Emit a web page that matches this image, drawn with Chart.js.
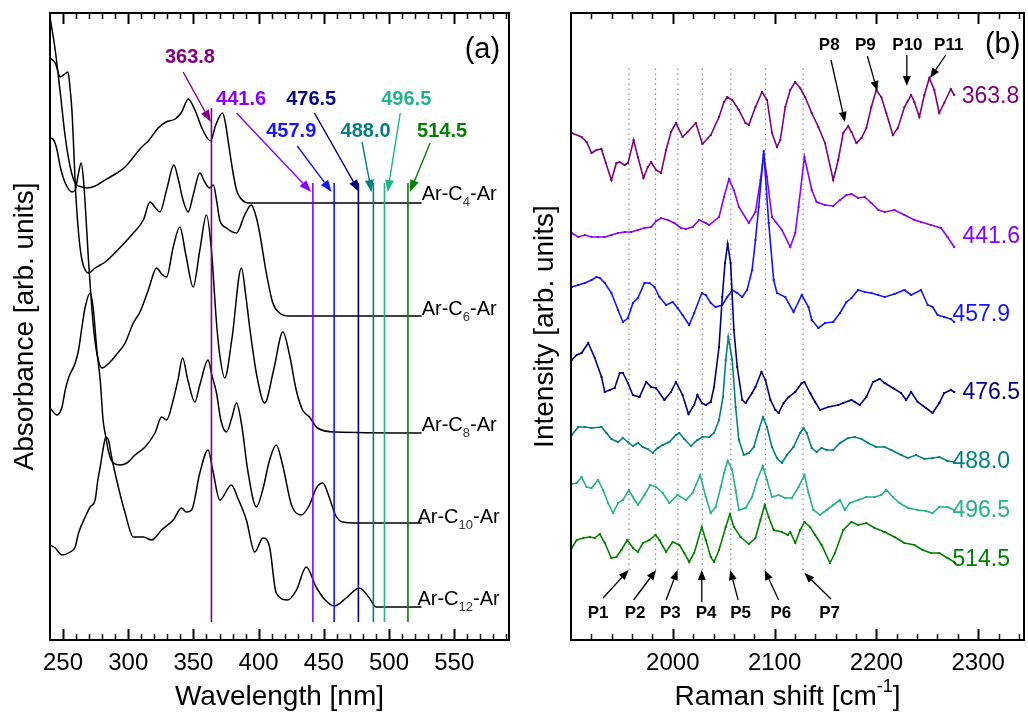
<!DOCTYPE html>
<html><head><meta charset="utf-8">
<script src="https://cdn.jsdelivr.net/npm/chart.js@4.4.0/dist/chart.umd.min.js"></script>
<style>
html,body{margin:0;padding:0;background:#fff;width:1028px;height:715px;overflow:hidden}
#ca{position:absolute;left:0;top:0}
#cb{position:absolute;left:520px;top:0}
</style></head><body>
<canvas id="ca" width="520" height="715"></canvas>
<canvas id="cb" width="508" height="715"></canvas>
<script>
// ---------- Panel (a): absorbance spectra (wavelength nm, arb. units) ----------
const tickNm = [250, 300, 350, 400, 450, 500, 550];
const curveNames = ['4', '6', '8', '10', '12'];
const absC4 = [[240,623],[244,590],[247.9,547],[251.7,503],[255.5,473],[259.3,457],[264.5,453],[268.3,452],[274.6,454],[278.5,457],[291.2,467],[297.6,473],[309,491],[316,500],[323,512],[329,518],[336,521],[341,528],[346,541],[351.1,530],[357.2,510],[363.1,499],[367.1,515],[372.3,527],[374.8,515],[376.5,500],[380.4,467],[383,450],[385.5,443],[389.3,438],[393.1,437],[525,437]];
const absC6 = [[240,582],[244,577],[247.9,563],[250.4,565],[253.8,568],[255.5,550],[256.8,530],[258,497],[259.3,457],[261.9,407],[264.5,380],[267,370],[269.5,367],[274.6,372],[278.5,375],[282.3,378],[291.2,389],[303.9,407],[311.6,420],[316.7,438],[321,432],[324.3,428],[329.4,450],[335,475],[338.5,460],[342,440],[346,428],[349.8,445],[354.9,467],[358.7,458],[362.5,452],[365.3,455],[367.7,440],[370.2,420],[375.3,412],[383,407],[389.3,425],[394.4,435],[397.7,425],[400.8,407],[405.9,367],[410.9,337],[416.1,327],[423.7,324],[525,324]];
const absC8 = [[240,502],[242.8,500],[245.4,490],[247.9,473],[251.7,457],[256.8,448],[259.3,450],[261.6,465],[263.9,477],[265.7,460],[268.3,407],[269.5,380],[270.8,355],[273.3,313],[276.2,285],[279.8,272],[286.1,278],[290.7,285],[297.6,297],[303.9,317],[309,328],[315.4,350],[321.8,372],[325.6,366],[329.4,363],[334.5,393],[339.6,413],[344.2,385],[349.8,353],[354.9,390],[360,425],[363.8,390],[367.7,317],[370.2,285],[374,262],[379.4,300],[386.8,372],[390.1,345],[393.1,313],[398.5,265],[404.6,237],[411.5,270],[418.6,308],[423.7,285],[428.8,250],[433.7,230],[439,223],[445.1,212],[459.4,208],[525,207]];
const absC10 = [[240,232],[245.4,225],[249.2,233],[251.7,250],[254.2,262],[259.3,277],[261.9,290],[264.5,313],[267,333],[270.8,347],[273.3,330],[275.9,290],[278.5,260],[280.7,220],[282.8,203],[284.6,190],[286.9,180],[288.6,177],[293.7,175],[298.9,177],[305.2,185],[312.9,193],[320.5,207],[325.6,223],[329.4,220],[334.5,240],[338.1,260],[341.7,282],[345.7,260],[351.1,238],[354.9,255],[361.2,280],[364.1,265],[367.7,247],[371,220],[375.3,208],[379.4,222],[383,237],[387,215],[391.6,170],[398.3,133],[403.1,150],[408.4,180],[413.5,195],[418.4,175],[425.2,135],[432.7,125],[439,135],[444.3,152],[449.2,157],[454.3,142],[458.9,125],[464.5,118],[477.2,117],[525,117]];
const absC12 = [[240,95],[244,92],[249.2,85],[255.5,88],[259.3,93],[261.9,107],[267,123],[270.8,133],[274.6,140],[276.7,160],[278.5,173],[281,193],[282.8,203],[284.8,200],[287.4,182],[292.4,153],[297.6,127],[303.9,103],[311.6,103],[318,100],[325.6,110],[334.5,120],[340.9,132],[344.5,128],[348.6,130],[354.9,167],[361.2,190],[364.8,170],[370.2,140],[379.1,155],[384,142],[390.6,120],[397,88],[403.3,102],[408.4,93],[413.5,47],[422.4,40],[429,50],[436.5,73],[444.1,53],[451,40],[458.1,34],[467.1,42],[477.2,52],[484.9,42],[490,33],[525,33]];
const laserNm = [363.8, 441.6, 457.9, 476.5, 488.0, 496.5, 514.5];
const laserText = ['363.8', '441.6', '457.9', '476.5', '488.0', '496.5', '514.5'];
const laserColors = ['#800080', '#8a00ff', '#1414ff', '#000080', '#008080', '#22b388', '#008000'];
const laserSpan = [[18, 532], [18, 457], [18, 457], [18, 457], [18, 457], [18, 457], [18, 457]];

// ---------- Panel (b): Raman spectra (cm-1, arb. units) ----------
const tickCm = [2000, 2100, 2200, 2300];
const peakLinesCm = [1957, 1983, 2005, 2029, 2057, 2091, 2128];
const ram363 = [[1900.7,507],[1910.4,503],[1915.3,498],[1920.2,487],[1925,490],[1929.9,491],[1934.2,477],[1939.7,460],[1944.6,477],[1947.8,478],[1952.7,475],[1956,477],[1961.5,500],[1965.7,483],[1971.2,462],[1975.5,473],[1978.7,478],[1983.6,470],[1988.5,467],[1993.4,490],[1998.2,508],[2003.1,517],[2009.6,503],[2014.5,508],[2022.6,517],[2029.1,496],[2037.3,505],[2045.4,523],[2050.3,538],[2053.5,543],[2058.4,540],[2064.9,530],[2071.4,517],[2074.7,515],[2081.2,533],[2087.7,548],[2092.6,540],[2097.5,507],[2102.3,493],[2105.6,500],[2110.5,533],[2115.3,550],[2120.2,558],[2125.1,552],[2130,543],[2136.5,527],[2143,513],[2149.5,497],[2157.6,460],[2162.5,480],[2167.4,507],[2172.3,514],[2175.5,508],[2180.4,497],[2185.3,502],[2190.2,512],[2195,533],[2199.9,550],[2204.8,543],[2209.7,527],[2216.2,505],[2221.1,512],[2227.6,533],[2234.1,545],[2237.3,538],[2242.2,523],[2247.1,545],[2252,562],[2256.9,550],[2261.7,527],[2266.6,537],[2273.1,551],[2276.4,545]];
const ram441 = [[1900.7,407],[1907.1,403],[1913.7,405],[1920.2,403],[1926.6,403],[1933.2,403],[1939.7,405],[1946.2,407],[1952.7,408],[1959.2,408],[1965.7,410],[1972.2,412],[1978.8,413],[1983.6,419],[1988.5,422],[1995,420],[2001.5,417],[2008,412],[2012.9,411],[2019.4,413],[2025.9,420],[2032.4,417],[2035.7,415],[2045.4,423],[2050.3,443],[2055.2,461],[2060,450],[2064.9,433],[2074.7,417],[2081.2,428],[2086.1,460],[2089.3,485],[2092.5,463],[2097.4,423],[2107.2,410],[2115.4,393],[2120.3,407],[2123.5,433],[2129.3,483],[2136.5,450],[2141.3,438],[2149.5,435],[2157.6,434],[2164.2,440],[2170.6,445],[2175.5,446],[2182,442],[2188.6,443],[2195,437],[2202,430],[2208.1,428],[2217.8,430],[2227.6,425],[2237.4,420],[2243.8,418],[2253.6,415],[2263.4,412],[2269.9,403],[2276.4,393]];
const ram457 = [[1900.7,353],[1907.1,355],[1913.7,357],[1920.2,360],[1925.1,363],[1928.3,362],[1933.2,357],[1939.7,347],[1946.2,330],[1951,318],[1955.9,322],[1960.8,337],[1965.7,342],[1972.2,357],[1977.1,357],[1982,353],[1986.9,343],[1993.4,335],[1999.8,338],[2004.7,332],[2009.6,325],[2016.1,315],[2021,327],[2028.5,347],[2032.4,345],[2037.3,337],[2042.2,333],[2048.6,335],[2053.5,343],[2058.4,350],[2063.3,347],[2068.2,343],[2073,350],[2077.9,370],[2081.2,400],[2084.4,433],[2089.3,489],[2094.2,417],[2099.1,360],[2102.3,347],[2110.5,343],[2118.6,328],[2126.7,345],[2133.3,333],[2136.5,320],[2143,312],[2149.5,317],[2157.6,318],[2164.2,327],[2170.6,338],[2175.5,342],[2182,350],[2188.6,348],[2195,347],[2201.6,345],[2208.1,343],[2217.8,346],[2227.6,350],[2234.1,345],[2243.8,350],[2250.4,335],[2255.2,333],[2260.1,325],[2266.6,323],[2273.1,321],[2276.4,318]];
const ram476 = [[1900.7,280],[1905.6,285],[1910.4,287],[1916.9,297],[1923.4,282],[1930,263],[1933.2,248],[1938.1,250],[1942.9,252],[1947.8,267],[1951,267],[1955.9,257],[1960.8,245],[1967.3,243],[1973.9,258],[1978.8,253],[1983.6,252],[1991.7,240],[1998.2,248],[2003.1,258],[2009.6,245],[2015.4,226],[2021,235],[2024.2,245],[2028.5,237],[2032.4,235],[2037.3,238],[2040.5,253],[2045.4,293],[2048.6,343],[2051.3,377],[2053.9,396],[2056.8,377],[2060,310],[2063.3,273],[2068.2,240],[2071.5,237],[2077.9,247],[2081.2,253],[2087.1,268],[2091,260],[2095.9,240],[2100.8,230],[2104,227],[2108.9,237],[2113.8,243],[2120.3,248],[2126.7,257],[2129.3,258],[2134.9,247],[2139.8,238],[2144.7,230],[2152.8,233],[2162.5,235],[2167.4,237],[2175.5,240],[2178.8,238],[2183.7,235],[2190.1,243],[2196.7,258],[2203.2,261],[2208.1,257],[2216.2,252],[2224.3,247],[2229.2,240],[2234.1,248],[2240.6,238],[2248.7,232],[2255.2,227],[2261.8,237],[2266.6,247],[2273.1,250],[2276.4,248]];
const ram488 = [[1900.7,205],[1907.1,213],[1913.7,213],[1920.2,212],[1930,213],[1934.8,207],[1939.7,201],[1946.2,198],[1951,202],[1955.9,198],[1960.8,194],[1965.7,197],[1970.6,193],[1975.4,191],[1980.3,187],[1985.2,192],[1990.1,195],[1996.6,198],[2003.1,205],[2006.4,207],[2011.3,201],[2017.8,194],[2024.2,200],[2029.1,203],[2035.7,203],[2040.5,207],[2045.4,220],[2049.3,243],[2052,280],[2054.5,303],[2058.4,280],[2061.7,233],[2064.9,200],[2069.8,185],[2074.7,187],[2079.6,193],[2084.4,210],[2088.6,223],[2092.5,213],[2097.4,193],[2102.3,182],[2107.2,177],[2112.1,185],[2118.6,193],[2125.1,207],[2128.4,212],[2131.6,207],[2136.5,192],[2141.3,188],[2146.2,192],[2151.1,190],[2157.6,190],[2164.2,197],[2172.3,202],[2178.8,203],[2185.3,201],[2191.8,197],[2199.9,193],[2208.1,193],[2214.6,190],[2224.3,185],[2230.9,182],[2239,185],[2247.1,181],[2255.2,182],[2261.8,183],[2269.9,179],[2276.4,178]];
const ram496 = [[1900.7,156],[1905.6,157],[1910.4,163],[1915.3,153],[1920.2,152],[1926.6,160],[1931.5,150],[1936.4,137],[1941.3,127],[1946.2,137],[1951,140],[1956.9,150],[1960.8,143],[1965.7,135],[1972.2,145],[1977.8,155],[1983.6,153],[1990.1,147],[1996.6,137],[2004.7,145],[2012.9,140],[2019.4,147],[2026.9,165],[2032.4,143],[2037.3,127],[2042.2,133],[2047.1,153],[2050.3,167],[2053.9,179],[2058.4,170],[2061.7,150],[2064.9,130],[2071.5,132],[2077.9,143],[2082.8,160],[2088.4,174],[2092.5,160],[2097.4,143],[2104,145],[2110.5,142],[2117,142],[2123.5,153],[2129.3,165],[2133.3,147],[2138.1,130],[2144.7,125],[2151.1,130],[2157.6,135],[2164.2,140],[2169,130],[2173.9,137],[2182,140],[2190.1,143],[2198.3,143],[2204.8,145],[2209.7,150],[2216.2,143],[2222.7,137],[2230.9,132],[2240.6,130],[2248.7,129],[2255.2,127],[2261.8,133],[2269.9,133],[2276.4,130]];
const ram514 = [[1900.7,92],[1905.6,100],[1912,102],[1918.5,103],[1923.4,102],[1928.3,106],[1933.2,97],[1939.7,82],[1944.6,83],[1949.5,90],[1955.3,100],[1960.8,92],[1965.7,88],[1970.6,97],[1977.1,100],[1983,105],[1986.9,100],[1993.4,88],[1999.8,98],[2006.4,95],[2011.3,87],[2016.1,78],[2021,87],[2028.5,113],[2032.4,100],[2037.3,83],[2040.5,78],[2045.4,90],[2052,113],[2056.1,126],[2060,113],[2066.6,103],[2074.7,96],[2081.2,102],[2086.1,120],[2090.3,135],[2094.2,123],[2099.1,110],[2107.2,108],[2113,105],[2115.4,108],[2120.3,97],[2125.1,110],[2129.3,118],[2134.9,113],[2139.8,105],[2146.2,95],[2154.4,77],[2159.3,87],[2167.4,110],[2175.5,118],[2182,115],[2190.1,117],[2198.3,112],[2208.1,108],[2217.8,103],[2227.6,97],[2237.4,95],[2245.5,90],[2253.6,87],[2261.8,87],[2269.9,82],[2276.4,78]];
const ramanSeries = [ram363, ram441, ram457, ram476, ram488, ram496, ram514];
const ramanText = ['363.8', '441.6', '457.9', '476.5', '488.0', '496.5', '514.5'];

// ---------- annotation layout (data coordinates) ----------
const laserLabelLayout = [
  [347.3,583, 342.1,568, 363.3,518],
  [386.5,541, 383.0,527, 440.3,448],
  [425.0,509, 429.6,494, 456.0,448],
  [440.3,541, 442.8,527, 477.2,448],
  [482.0,509, 479.3,498, 486.6,448],
  [513.2,541, 508.6,527, 498.9,448],
  [540.7,509, 531.5,497, 516.0,448]
];
const curveLabelLayout = [[525,440],[525,325],[525,209],[521.8,117],[521.8,35]];
const topPeakLayout = [['P8',2153.7,595,2155.4,580,2169.1,518],['P9',2189.2,595,2191.1,584,2200.9,549],['P10',2230.5,595,2229.9,585,2229.9,554],['P11',2271.1,595,2268.2,585,2252.6,562]];
const botPeakLayout = [['P1',1926.6,27,1931.5,42,1956.6,70],['P2',1962.9,27,1961.5,40,1983.6,70],['P3',1997.6,27,1993.4,40,2004.7,70],['P4',2032.7,27,2028.5,38,2028.5,70],['P5',2066.6,27,2064.2,40,2056.4,70],['P6',2106.2,27,2104,40,2090.3,70],['P7',2154,27,2155.4,41,2129.3,67]];
const seriesLabelLayout = [[2283.8,543],[2284.5,403],[2274.7,325],[2284.5,247],[2274.7,178],[2274.7,129],[2274.7,80]];

const FONT = "'Liberation Sans', Arial, Helvetica, sans-serif";
Chart.defaults.font.family = FONT;
Chart.defaults.color = '#000';

function toXY(arr){ return arr.map(p => ({x:p[0], y:p[1]})); }
function arrow(ctx, x1, y1, x2, y2, color, lw, head, hw){
  const a = Math.atan2(y2-y1, x2-x1);
  const hx = x2 - head*Math.cos(a), hy = y2 - head*Math.sin(a);
  ctx.strokeStyle = color; ctx.fillStyle = color; ctx.lineWidth = lw;
  ctx.beginPath(); ctx.moveTo(x1,y1); ctx.lineTo(hx,hy); ctx.stroke();
  ctx.beginPath(); ctx.moveTo(x2,y2);
  ctx.lineTo(hx + hw*Math.sin(a), hy - hw*Math.cos(a));
  ctx.lineTo(hx - hw*Math.sin(a), hy + hw*Math.cos(a));
  ctx.closePath(); ctx.fill();
}
function frameAndTicks(chart, majors, minorStart, minorStep){
  const ctx = chart.ctx, {left,right,top,bottom} = chart.chartArea, xs = chart.scales.x;
  ctx.save();
  ctx.strokeStyle = '#000';
  for (let v = minorStart; v <= xs.max; v += minorStep){
    const px = Math.round(xs.getPixelForValue(v)) + 0.5;
    const major = majors.indexOf(v) >= 0;
    const len = major ? 11 : 6;
    ctx.lineWidth = major ? 2 : 1.5;
    ctx.beginPath(); ctx.moveTo(px, bottom); ctx.lineTo(px, bottom-len); ctx.stroke();
    ctx.beginPath(); ctx.moveTo(px, top); ctx.lineTo(px, top+len); ctx.stroke();
  }
  ctx.lineWidth = 2;
  ctx.strokeRect(left, top, right-left, bottom-top);
  ctx.restore();
}

const decorA = { id:'decorA', afterDraw(chart){
  const ctx = chart.ctx, xs = chart.scales.x, ys = chart.scales.y;
  frameAndTicks(chart, tickNm, 250, 10);
  ctx.save();
  laserLabelLayout.forEach((L, i) => {
    ctx.font = 'bold 20px ' + FONT; ctx.fillStyle = laserColors[i];
    ctx.textAlign = 'center'; ctx.textBaseline = 'middle';
    ctx.fillText(laserText[i], xs.getPixelForValue(L[0]), ys.getPixelForValue(L[1]));
    arrow(ctx, xs.getPixelForValue(L[2]), ys.getPixelForValue(L[3]), xs.getPixelForValue(L[4]), ys.getPixelForValue(L[5]), laserColors[i], 1.4, 12, 4.5);
  });
  curveLabelLayout.forEach((L, i) => {
    const x = xs.getPixelForValue(L[0]), y = ys.getPixelForValue(L[1]);
    ctx.textAlign = 'left'; ctx.textBaseline = 'alphabetic'; ctx.fillStyle = '#000';
    ctx.font = '20px ' + FONT; ctx.fillText('Ar-C', x, y);
    const w1 = ctx.measureText('Ar-C').width;
    ctx.font = '13px ' + FONT; ctx.fillStyle = '#333'; ctx.fillText(curveNames[i], x + w1, y + 6);
    const w2 = ctx.measureText(curveNames[i]).width;
    ctx.font = '20px ' + FONT; ctx.fillStyle = '#000'; ctx.fillText('-Ar', x + w1 + w2, y);
  });
  ctx.font = '29px ' + FONT; ctx.fillStyle = '#000'; ctx.textAlign = 'center'; ctx.textBaseline = 'middle';
  ctx.fillText('(a)', xs.getPixelForValue(571.6), ys.getPixelForValue(590));
  ctx.restore();
}};

const decorB = { id:'decorB', afterDraw(chart){
  const ctx = chart.ctx, xs = chart.scales.x, ys = chart.scales.y;
  frameAndTicks(chart, tickCm, 1920, 20);
  ctx.save();
  const peaks = topPeakLayout.concat(botPeakLayout);
  peaks.forEach(L => {
    ctx.font = 'bold 17px ' + FONT; ctx.fillStyle = '#000';
    ctx.textAlign = 'center'; ctx.textBaseline = 'middle';
    ctx.fillText(L[0], xs.getPixelForValue(L[1]), ys.getPixelForValue(L[2]));
    arrow(ctx, xs.getPixelForValue(L[3]), ys.getPixelForValue(L[4]), xs.getPixelForValue(L[5]), ys.getPixelForValue(L[6]), '#000', 1.3, 10, 4);
  });
  seriesLabelLayout.forEach((L, i) => {
    ctx.font = '23px ' + FONT; ctx.fillStyle = laserColors[i];
    ctx.textAlign = 'left'; ctx.textBaseline = 'middle';
    ctx.fillText(ramanText[i], xs.getPixelForValue(L[0]), ys.getPixelForValue(L[1]));
  });
  ctx.font = '29px ' + FONT; ctx.fillStyle = '#000'; ctx.textAlign = 'center'; ctx.textBaseline = 'middle';
  ctx.fillText('(b)', xs.getPixelForValue(2324), ys.getPixelForValue(595));
  // x-axis title with superscript
  const {left, right} = chart.chartArea;
  const main = 'Raman shift [cm', sup = '-1', end = ']';
  ctx.font = '28px ' + FONT; const w1 = ctx.measureText(main).width, w3 = ctx.measureText(end).width;
  ctx.font = '18px ' + FONT; const w2 = ctx.measureText(sup).width;
  const cx = (left + right) / 2 - 10, base = 705;
  let x0 = cx - (w1 + w2 + w3) / 2;
  ctx.textAlign = 'left'; ctx.textBaseline = 'alphabetic';
  ctx.font = '28px ' + FONT; ctx.fillText(main, x0, base);
  ctx.font = '18px ' + FONT; ctx.fillText(sup, x0 + w1, base - 13);
  ctx.font = '28px ' + FONT; ctx.fillText(end, x0 + w1 + w2, base);
  ctx.restore();
}};

// ---------- Chart (a) ----------
const datasetsA = [absC4, absC6, absC8, absC10, absC12].map(s => ({
  data: toXY(s), borderColor:'#000', borderWidth:1.5, pointRadius:0, fill:false, order:1,
  cubicInterpolationMode:'monotone'
}));
laserNm.forEach((w, i) => datasetsA.push({
  data: [{x:w, y:laserSpan[i][0]}, {x:w, y:laserSpan[i][1]}],
  borderColor: laserColors[i], borderWidth:1.6, pointRadius:0, fill:false, order:0
}));

new Chart(document.getElementById('ca'), {
  type:'line',
  data:{ datasets: datasetsA },
  options:{
    responsive:false, animation:false, devicePixelRatio:1, events:[],
    layout:{ padding:{ top:13, right:11, left:0, bottom:0 } },
    plugins:{ legend:{display:false}, tooltip:{enabled:false} },
    scales:{
      x:{ type:'linear', min:240, max:592, position:'bottom',
        grid:{display:false, drawTicks:false}, border:{display:false},
        afterBuildTicks: s => { s.ticks = tickNm.map(v => ({value:v})); },
        afterFit: s => { s.height = 75; },
        ticks:{ autoSkip:false, maxRotation:0, padding:9, font:{size:24}, color:'#000', callback: v => String(v) },
        title:{ display:true, text:'Wavelength [nm]', font:{size:28}, color:'#000', padding:{top:0, bottom:1} }
      },
      y:{ type:'linear', min:0, max:627,
        grid:{display:false, drawTicks:false}, border:{display:false}, ticks:{display:false},
        afterFit: s => { s.width = 50; },
        title:{ display:true, text:'Absorbance [arb. units]', font:{size:28}, color:'#000', padding:{top:8, bottom:0} }
      }
    }
  },
  plugins:[decorA]
});

// ---------- Chart (b) ----------
const datasetsB = peakLinesCm.map(w => ({
  data: [{x:w, y:70}, {x:w, y:575}], borderColor:'#888', borderWidth:1.2, borderDash:[1.5,3.5],
  pointRadius:0, fill:false, order:20
}));
ramanSeries.forEach((s, i) => datasetsB.push({
  data: toXY(s), borderColor: laserColors[i], backgroundColor: laserColors[i], borderWidth:1.6,
  pointRadius:1.4, pointStyle:'rect', pointBorderWidth:0, pointBackgroundColor: laserColors[i],
  fill:false, order: 10 - i
}));

new Chart(document.getElementById('cb'), {
  type:'line',
  data:{ datasets: datasetsB },
  options:{
    responsive:false, animation:false, devicePixelRatio:1, events:[],
    layout:{ padding:{ top:13, right:1, left:0, bottom:0 } },
    plugins:{ legend:{display:false}, tooltip:{enabled:false} },
    scales:{
      x:{ type:'linear', min:1900, max:2345, position:'bottom',
        grid:{display:false, drawTicks:false}, border:{display:false},
        afterBuildTicks: s => { s.ticks = tickCm.map(v => ({value:v})); },
        afterFit: s => { s.height = 75; },
        ticks:{ autoSkip:false, maxRotation:0, padding:9, font:{size:24}, color:'#000', callback: v => String(v) },
        title:{ display:false }
      },
      y:{ type:'linear', min:0, max:627,
        grid:{display:false, drawTicks:false}, border:{display:false}, ticks:{display:false},
        afterFit: s => { s.width = 51; },
        title:{ display:true, text:'Intensity [arb. units]', font:{size:28}, color:'#000', padding:{top:8, bottom:0} }
      }
    }
  },
  plugins:[decorB]
});
</script>
</body></html>
